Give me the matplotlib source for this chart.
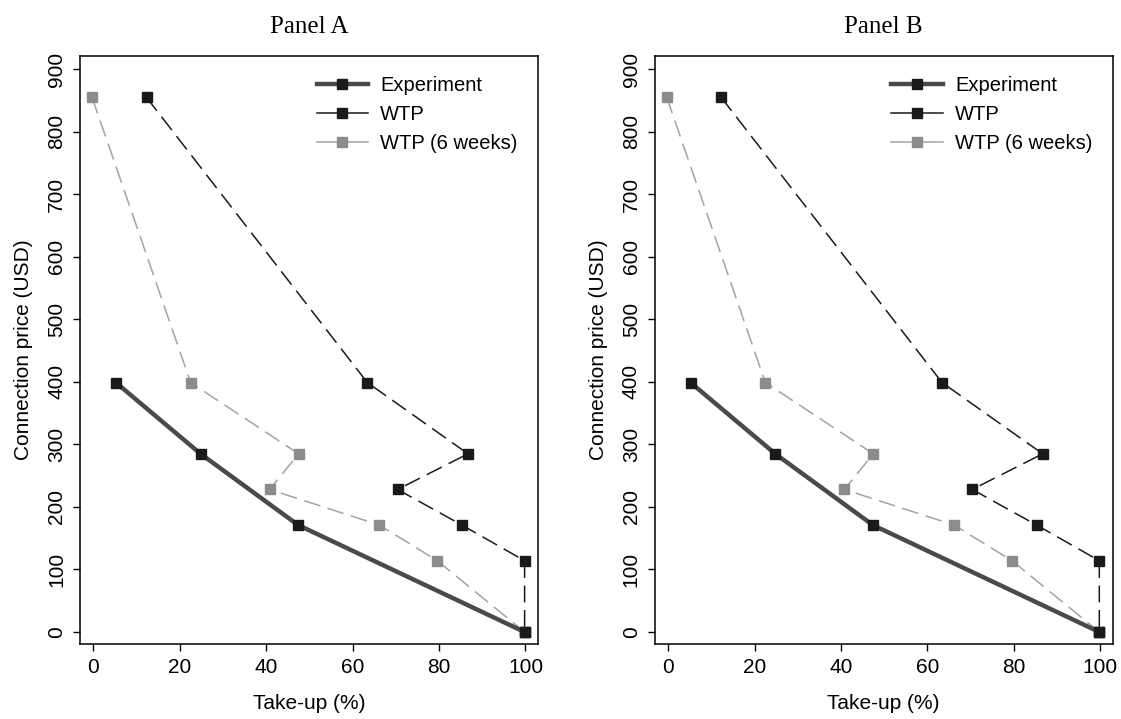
import matplotlib
matplotlib.use("Agg")
import matplotlib.pyplot as plt
from matplotlib.lines import Line2D

plt.rcParams["font.family"] = ["Liberation Sans", "DejaVu Sans"]

# prices in USD
exp_price = [399, 285, 171, 0]
exp_takeup = [5.2, 24.8, 47.4, 99.8]

wtp_price = [855, 399, 285, 228, 171, 114, 0]
wtp_takeup = [12.3, 63.4, 86.7, 70.4, 85.3, 99.8, 99.8]

wtp6_price = [855, 399, 285, 228, 171, 114, 0]
wtp6_takeup = [-0.3, 22.5, 47.5, 40.8, 66.2, 79.6, 99.8]

panels = ["Panel A", "Panel B"]
series_names = ["Experiment", "WTP", "WTP (6 weeks)"]


def draw_panel(ax, title):
    ax.plot(exp_takeup, exp_price, color="#4a4a4a", lw=3.2, marker="s",
            ms=6.5, mfc="#1a1a1a", mec="#1a1a1a", zorder=3)
    ax.plot(wtp_takeup, wtp_price, color="#1a1a1a", lw=1.1, dashes=(11, 5),
            marker="s", ms=6.5, mfc="#1a1a1a", mec="#1a1a1a", zorder=2)
    ax.plot(wtp6_takeup, wtp6_price, color="#a3a3a3", lw=1.1, dashes=(11, 5),
            marker="s", ms=6.5, mfc="#8c8c8c", mec="#8c8c8c", zorder=2)

    ax.set_xlim(-3.1, 102.9)
    ax.set_ylim(-19.2, 921.8)
    ax.set_xticks(range(0, 101, 20))
    ax.set_yticks(range(0, 901, 100))
    ax.tick_params(direction="out", length=5, width=1, labelsize=15, pad=5)
    for lbl in ax.get_yticklabels():
        lbl.set_rotation(90)
        lbl.set_va("center")
    for sp in ax.spines.values():
        sp.set_linewidth(1.1)

    ax.set_xlabel("Take-up (%)", fontsize=15, labelpad=12)
    ax.set_ylabel("Connection price (USD)", fontsize=15, labelpad=10)
    ax.set_title(title, fontsize=18, family="Liberation Serif", pad=16)

    handles = [
        Line2D([], [], color="#4a4a4a", lw=3.2, marker="s", ms=6.5,
               mfc="#1a1a1a", mec="#1a1a1a"),
        Line2D([], [], color="#1a1a1a", lw=1.1, marker="s", ms=6.5,
               mfc="#1a1a1a", mec="#1a1a1a"),
        Line2D([], [], color="#a3a3a3", lw=1.1, marker="s", ms=6.5,
               mfc="#8c8c8c", mec="#8c8c8c"),
    ]
    ax.legend(handles, series_names, loc="upper left",
              bbox_to_anchor=(0.495, 0.982), frameon=False, fontsize=14.5,
              handlelength=2.55, handletextpad=0.6, labelspacing=0.5,
              borderpad=0)


fig = plt.figure(figsize=(11.21, 7.19), dpi=100)
ax_a = fig.add_axes([80 / 1121, 1 - 644 / 719, 458 / 1121, 588.3 / 719])
ax_b = fig.add_axes([654.7 / 1121, 1 - 644 / 719, 458 / 1121, 588.3 / 719])

draw_panel(ax_a, panels[0])
draw_panel(ax_b, panels[1])

fig.savefig("out.png", dpi=100, facecolor="white")
